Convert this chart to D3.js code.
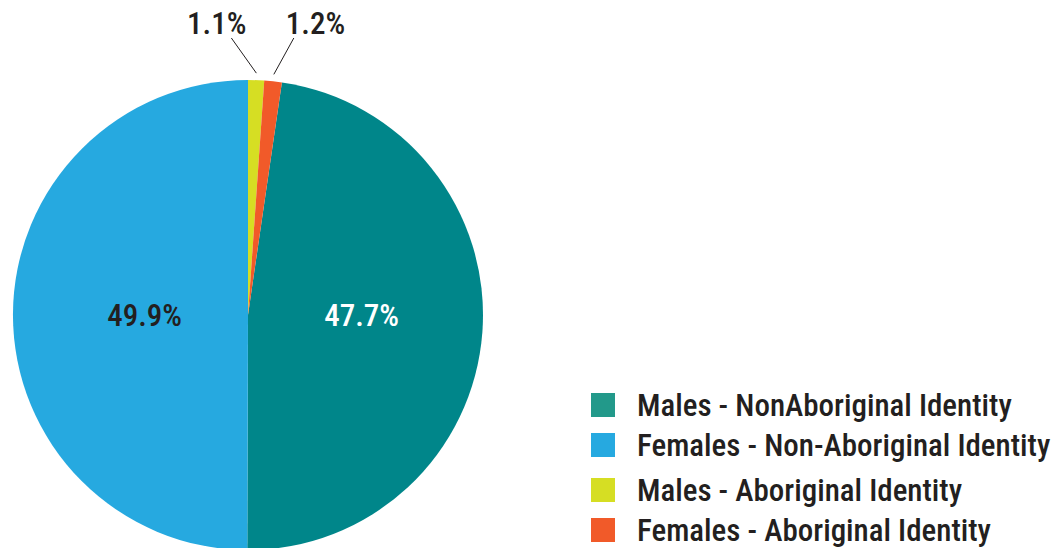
<!DOCTYPE html>
<html><head><meta charset="utf-8">
<script src="https://cdn.jsdelivr.net/npm/d3@7"></script>
<style>
html,body{margin:0;padding:0;background:#fff;}
svg{display:block;}
text{font-family:"Liberation Sans Narrow","Roboto Condensed","Arial Narrow",sans-serif;font-weight:500;}
</style></head>
<body>
<svg id="chart" width="1053" height="548"></svg>
<script>
const categories = ["Males - NonAboriginal Identity","Females - Non-Aboriginal Identity","Males - Aboriginal Identity","Females - Aboriginal Identity"];
const values = [47.7, 49.9, 1.1, 1.2];
const valueLabels = ["47.7%","49.9%","1.1%","1.2%"];
const colors = ["#00868a","#26a9e0","#d6de23","#f15a29"];

const svg = d3.select("#chart");
const W = 1053, H = 548;
const cx = 248, cy = 315, r = 235;
const FS = 31;

const total = d3.sum(values);
const offset = (values[2] + values[3]) / total * 2 * Math.PI;
const pie = d3.pie().sort(null).value(d => d).startAngle(offset).endAngle(offset + 2*Math.PI);
const arcs = pie(values);
const arc = d3.arc().innerRadius(0).outerRadius(r);

const g = svg.append("g").attr("transform", `translate(${cx},${cy})`);
g.selectAll("path").data(arcs).enter().append("path")
  .attr("d", arc).attr("fill", (d,i) => colors[i]);

const labelRadius = [r*0.485, r*0.44];
const textColors = ["#ffffff","#231f20"];
[0,1].forEach(i => {
  const la = d3.arc().innerRadius(labelRadius[i]).outerRadius(labelRadius[i]);
  const c = la.centroid(arcs[i]);
  g.append("text").attr("x", c[0]).attr("y", 0).attr("dy","0.36em")
    .attr("text-anchor","middle").attr("font-size",FS)
    .attr("fill", textColors[i]).text(valueLabels[i]);
});

const outerArc = d3.arc().innerRadius(r+7).outerRadius(r+7);
const leaderDx = {2:-25, 3:20};
const leaderTopY = 38 - cy;
[2,3].forEach(i => {
  const p = outerArc.centroid(arcs[i]);
  const q = [p[0] + leaderDx[i], leaderTopY];
  g.append("line").attr("x1",p[0]).attr("y1",p[1]).attr("x2",q[0]).attr("y2",q[1])
    .attr("stroke","#231f20").attr("stroke-width",1);
  const left = i === 2;
  g.append("text")
    .attr("x", left ? q[0] + 15 : q[0] - 8)
    .attr("y", 34 - cy)
    .attr("text-anchor", left ? "end" : "start")
    .attr("font-size",FS).attr("fill","#231f20").text(valueLabels[i]);
});

const legendY = [393, 433, 478, 518];
const lg = svg.append("g");
categories.forEach((c,i) => {
  lg.append("rect").attr("x",591).attr("y",legendY[i]).attr("width",24).attr("height",24)
    .attr("fill", i===0 ? "#22998a" : colors[i]);
  lg.append("text").attr("x",637).attr("y",legendY[i]+12).attr("dy","0.36em")
    .attr("font-size",FS).attr("fill","#231f20").text(c);
});
</script>
</body></html>
